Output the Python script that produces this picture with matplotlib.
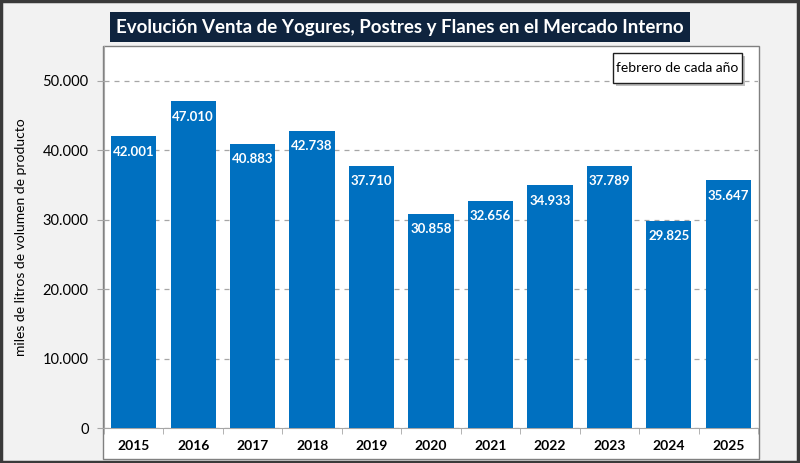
import matplotlib
matplotlib.use("Agg")
import matplotlib.pyplot as plt
from matplotlib.patches import Rectangle
from matplotlib.ticker import FuncFormatter, MultipleLocator

years = ["2015", "2016", "2017", "2018", "2019", "2020", "2021", "2022", "2023", "2024", "2025"]
values = [42001, 47010, 40883, 42738, 37710, 30858, 32656, 34933, 37789, 29825, 35647]
title = "Evolución Venta de Yogures, Postres y Flanes en el Mercado Interno"
ylabel = "miles de litros de volumen de producto"
note = "febrero de cada año"

plt.rcParams['font.family'] = ['Lato', 'DejaVu Sans']

W, H = 800, 463
fig = plt.figure(figsize=(W / 100, H / 100), dpi=100)
fig.patch.set_facecolor('#f2f2f2')

def fx(x):
    return x / W

def fy(y):
    return 1 - y / H

# outer border
fig.patches.append(Rectangle((0.001, 0.002), 0.997, 0.995, transform=fig.transFigure,
                             facecolor='none', edgecolor='#3a3a3a', linewidth=2.5, zorder=-2))
# white plot region
fig.patches.append(Rectangle((fx(103), fy(459)), fx(759) - fx(103), fy(46) - fy(459),
                             transform=fig.transFigure, facecolor='white',
                             edgecolor='#808080', linewidth=1.0, zorder=-1))

ax = fig.add_axes([fx(104), fy(428), fx(758) - fx(104), fy(46) - fy(428)])
ax.set_zorder(1)
ax.set_facecolor('none')
x = list(range(len(years)))
ax.bar(x, values, width=0.76, color='#0070C0', zorder=3)
ax.set_xlim(-0.5, len(years) - 0.5)
ax.set_ylim(0, 55000)
ax.yaxis.set_major_locator(MultipleLocator(10000))
ax.yaxis.set_major_formatter(FuncFormatter(lambda v, p: f"{int(v):,}".replace(",", ".")))
ax.grid(axis='y', linestyle=(0, (4, 4)), color='#a6a6a6', linewidth=0.9, zorder=1)
ax.set_axisbelow(True)
ax.set_xticks(x)
ax.set_xticklabels(years)
ax.set_xticks([i + 0.5 for i in range(-1, len(years))], minor=True)
ax.tick_params(axis='x', which='major', length=0, pad=9, labelsize=10)
ax.tick_params(axis='x', which='minor', length=4, color='#a6a6a6', direction='out')
ax.tick_params(axis='y', length=5, color='#a6a6a6', labelsize=10.5, pad=6)
for s in ['top', 'right']:
    ax.spines[s].set_visible(False)
ax.spines['left'].set_color('#a6a6a6')
ax.spines['bottom'].set_color('#a6a6a6')
for lab in ax.get_xticklabels():
    lab.set_fontweight('bold')
ax.set_ylabel(ylabel, fontsize=10)
ax.yaxis.set_label_coords(-0.117, 0.5)

for xi, v in zip(x, values):
    ax.annotate(f"{v:,}".replace(",", "."), (xi, v), xytext=(0, -11), textcoords='offset points',
                ha='center', va='center', color='white', fontweight='bold', fontsize=9.5, zorder=4)

# title box
fig.patches.append(Rectangle((fx(110), fy(42)), fx(690) - fx(110), fy(12) - fy(42),
                             transform=fig.transFigure, facecolor='#0f243e', edgecolor='none', zorder=2))
fig.text(fx(400), fy(27.5), title, ha='center', va='center', color='white',
         fontsize=13.5, fontweight='bold', zorder=3)

# note box with shadow
fig.patches.append(Rectangle((fx(616), fy(86)), fx(745) - fx(616), fy(56) - fy(86),
                             transform=fig.transFigure, facecolor='#bfbfbf', edgecolor='none', zorder=2))
fig.patches.append(Rectangle((fx(613), fy(83)), fx(742) - fx(613), fy(53) - fy(83),
                             transform=fig.transFigure, facecolor='white', edgecolor='#202020',
                             linewidth=1.0, zorder=3))
fig.text(fx(677.5), fy(68), note, ha='center', va='center', fontsize=10, zorder=4)

fig.savefig('out.png', dpi=100, facecolor=fig.get_facecolor())
